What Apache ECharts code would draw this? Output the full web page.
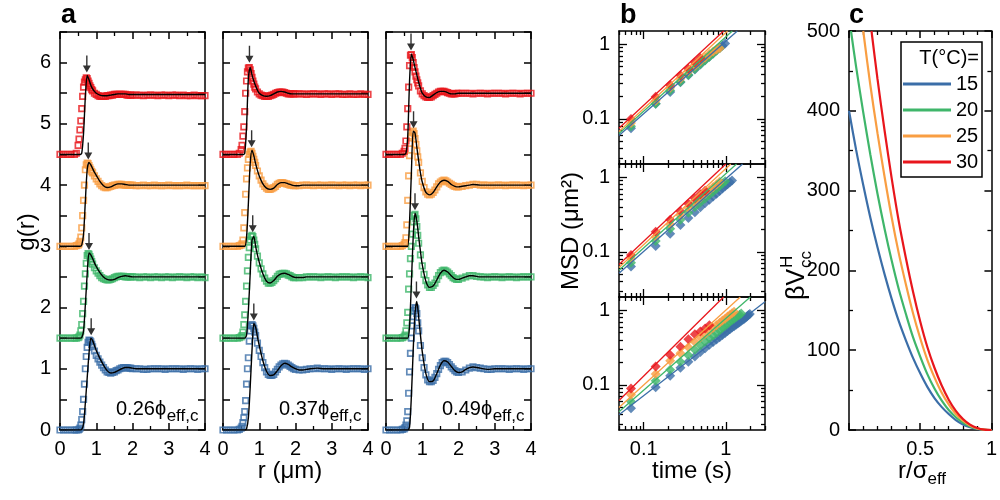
<!DOCTYPE html>
<html>
<head>
<meta charset="utf-8">
<script src="https://cdn.jsdelivr.net/npm/echarts@6.0.0/dist/echarts.min.js"></script>
<style>
html, body { margin: 0; padding: 0; background: #fff; }
#main { width: 1000px; height: 500px; }
</style>
</head>
<body>
<div id="main"></div>
<script>
// ---------- panel a : g(r) ----------
var rExp = [0, 0.1, 0.2, 0.3, 0.4, 0.45,
  0.5, 0.525, 0.55, 0.575, 0.6, 0.625, 0.65, 0.675, 0.7, 0.725, 0.75, 0.775, 0.8, 0.825, 0.85, 0.875, 0.9,
  0.95, 1.0, 1.05, 1.1, 1.15, 1.2, 1.25, 1.3, 1.35, 1.4, 1.45, 1.5, 1.55, 1.6, 1.65, 1.7, 1.75, 1.8, 1.85, 1.9, 1.95, 2.0,
  2.1, 2.2, 2.3, 2.4, 2.5, 2.6, 2.7, 2.8, 2.9, 3.0, 3.1, 3.2, 3.3, 3.4, 3.5, 3.6, 3.7, 3.8, 3.9, 4.0];
var rSim = [0, 0.5, 0.55, 0.6, 0.65, 0.7, 0.75, 0.8, 0.85, 0.9, 0.95, 1.0, 1.1, 1.2, 1.3, 1.4, 1.5, 1.6, 1.7, 1.8,
  1.9, 2.0, 2.1, 2.2, 2.3, 2.4, 2.6, 2.8, 3.0, 3.5, 4.0];

var temps = ['15', '20', '25', '30'];
var gOffset = [0, 1.5, 3, 4.5];
var phiLabels = ['0.26', '0.37', '0.49'];

// experiment (squares), one array per temperature
var gExp026_15 = [0, 0, 0, 0, 0, 0,
  0, 0.01, 0.03, 0.08, 0.17, 0.3, 0.5, 0.75, 1.0, 1.2, 1.35, 1.43, 1.47, 1.46, 1.44, 1.4, 1.36,
  1.29, 1.22, 1.16, 1.11, 1.06, 1.02, 0.98, 0.95, 0.94, 0.93, 0.94, 0.95, 0.97, 0.98, 1.0, 1.01, 1.02, 1.02, 1.02, 1.01, 1.01, 1.0,
  1.0, 1.0, 0.99, 0.99, 1.0, 1.0, 1.0, 1.0, 0.99, 1.0, 1.0, 1.0, 1.0, 0.99, 1.0, 1.0, 1.0, 0.99, 1.0, 1.0];
var gExp026_20 = [0, 0, 0, 0, 0, 0,
  0.01, 0.02, 0.05, 0.12, 0.22, 0.4, 0.6, 0.85, 1.05, 1.22, 1.35, 1.38, 1.37, 1.33, 1.29, 1.25, 1.21,
  1.15, 1.1, 1.06, 1.02, 0.99, 0.97, 0.96, 0.95, 0.95, 0.96, 0.97, 0.99, 1.0, 1.01, 1.01, 1.01, 1.01, 1.0, 1.0, 1.0, 1.0, 1.0,
  1.0, 0.99, 1.0, 1.0, 0.99, 1.0, 1.0, 0.99, 1.0, 1.0, 0.99, 1.0, 1.0, 1.0, 0.99, 1.0, 1.0, 0.99, 1.0, 0.99];
var gExp026_25 = [0, 0, 0, 0, 0, 0.01,
  0.02, 0.04, 0.08, 0.15, 0.3, 0.5, 0.75, 1.0, 1.25, 1.33, 1.36, 1.35, 1.32, 1.28, 1.25, 1.22, 1.2,
  1.15, 1.1, 1.06, 1.02, 0.99, 0.97, 0.96, 0.96, 0.97, 0.98, 0.99, 1.0, 1.0, 1.01, 1.01, 1.01, 1.0, 1.0, 1.0, 1.0, 1.0, 1.0,
  0.99, 0.99, 1.0, 0.99, 0.99, 1.0, 0.99, 0.99, 0.99, 1.0, 0.99, 0.99, 0.99, 0.99, 1.0, 0.99, 0.99, 0.99, 0.99, 0.99];
var gExp026_30 = [0, 0, 0, 0, 0, 0.02,
  0.15, 0.25, 0.4, 0.55, 0.75, 0.95, 1.1, 1.18, 1.22, 1.25, 1.24, 1.2, 1.16, 1.12, 1.09, 1.06, 1.04,
  1.0, 0.98, 0.96, 0.95, 0.95, 0.95, 0.95, 0.96, 0.96, 0.97, 0.97, 0.98, 0.98, 0.98, 0.98, 0.98, 0.98, 0.98, 0.97, 0.97, 0.97, 0.97,
  0.97, 0.97, 0.96, 0.97, 0.97, 0.97, 0.96, 0.97, 0.97, 0.96, 0.97, 0.97, 0.96, 0.97, 0.96, 0.96, 0.97, 0.96, 0.96, 0.96];

var gExp037_15 = [0, 0, 0, 0, 0, 0.01,
  0.03, 0.06, 0.12, 0.2, 0.3, 0.48, 0.75, 1.0, 1.18, 1.45, 1.62, 1.7, 1.72, 1.7, 1.66, 1.6, 1.54,
  1.42, 1.3, 1.2, 1.1, 1.02, 0.95, 0.91, 0.89, 0.89, 0.91, 0.95, 0.99, 1.03, 1.06, 1.08, 1.09, 1.08, 1.06, 1.04, 1.02, 1.0, 0.99,
  0.98, 0.98, 0.99, 1.0, 1.0, 1.01, 1.0, 1.0, 1.0, 0.99, 1.0, 1.0, 1.0, 0.99, 1.0, 1.0, 1.0, 1.0, 0.99, 1.0];
var gExp037_20 = [0, 0, 0, 0, 0, 0.01,
  0.02, 0.04, 0.1, 0.22, 0.38, 0.6, 0.85, 1.1, 1.32, 1.48, 1.6, 1.66, 1.68, 1.66, 1.6, 1.53, 1.46,
  1.34, 1.23, 1.13, 1.05, 0.98, 0.93, 0.9, 0.9, 0.91, 0.94, 0.97, 1.01, 1.04, 1.05, 1.06, 1.06, 1.05, 1.03, 1.02, 1.0, 0.99, 0.99,
  0.99, 0.99, 1.0, 1.0, 1.0, 1.0, 0.99, 1.0, 1.0, 1.0, 0.99, 1.0, 1.0, 1.0, 1.0, 0.99, 1.0, 1.0, 1.0, 0.99];
var gExp037_25 = [0, 0, 0, 0, 0, 0.01,
  0.02, 0.04, 0.1, 0.3, 0.55, 0.85, 1.1, 1.28, 1.42, 1.5, 1.54, 1.55, 1.52, 1.47, 1.42, 1.37, 1.32,
  1.23, 1.15, 1.08, 1.02, 0.98, 0.95, 0.93, 0.93, 0.94, 0.96, 0.98, 1.01, 1.03, 1.04, 1.04, 1.03, 1.02, 1.01, 1.0, 1.0, 0.99, 0.99,
  0.99, 1.0, 1.0, 1.0, 0.99, 1.0, 1.0, 0.99, 1.0, 1.0, 1.0, 0.99, 1.0, 1.0, 0.99, 1.0, 1.0, 0.99, 1.0, 1.0];
var gExp037_30 = [0, 0, 0, 0, 0, 0.02,
  0.08, 0.15, 0.3, 0.45, 0.7, 1.0, 1.2, 1.35, 1.41, 1.42, 1.38, 1.32, 1.26, 1.2, 1.15, 1.1, 1.07,
  1.02, 0.99, 0.97, 0.96, 0.95, 0.95, 0.95, 0.96, 0.97, 0.98, 1.0, 1.01, 1.02, 1.02, 1.02, 1.01, 1.0, 0.99, 0.99, 0.99, 0.99, 0.99,
  0.99, 0.99, 0.98, 0.99, 0.99, 0.99, 0.98, 0.99, 0.99, 0.98, 0.99, 0.99, 0.98, 0.98, 0.99, 0.98, 0.98, 0.99, 0.98, 0.98];

var gExp049_15 = [0, 0, 0, 0, 0, 0.01,
  0.02, 0.04, 0.08, 0.15, 0.3, 0.6, 0.95, 1.25, 1.5, 1.7, 1.85, 1.95, 2.0, 1.98, 1.9, 1.75, 1.62,
  1.38, 1.18, 1.02, 0.9, 0.82, 0.79, 0.79, 0.81, 0.86, 0.92, 0.99, 1.05, 1.1, 1.12, 1.12, 1.1, 1.07, 1.03, 1.0, 0.97, 0.95, 0.94,
  0.95, 0.98, 1.01, 1.03, 1.02, 1.01, 1.0, 0.99, 0.99, 1.0, 1.0, 1.0, 1.0, 0.99, 1.0, 1.0, 1.0, 0.99, 1.0, 1.0];
var gExp049_20 = [0, 0, 0, 0, 0, 0.01,
  0.02, 0.05, 0.12, 0.25, 0.42, 0.8, 1.05, 1.3, 1.5, 1.7, 1.9, 2.0, 2.02, 1.95, 1.82, 1.68, 1.55,
  1.36, 1.18, 1.04, 0.94, 0.87, 0.83, 0.83, 0.86, 0.9, 0.96, 1.02, 1.07, 1.1, 1.11, 1.1, 1.08, 1.05, 1.02, 0.99, 0.97, 0.96, 0.96,
  0.98, 1.0, 1.02, 1.02, 1.01, 1.0, 1.0, 0.99, 1.0, 1.0, 1.0, 0.99, 1.0, 1.0, 1.0, 0.99, 1.0, 1.0, 1.0, 1.0];
var gExp049_25 = [0, 0, 0, 0, 0, 0.01,
  0.03, 0.06, 0.14, 0.35, 0.75, 1.15, 1.48, 1.68, 1.8, 1.86, 1.88, 1.84, 1.76, 1.66, 1.56, 1.46, 1.37,
  1.2, 1.06, 0.96, 0.89, 0.85, 0.84, 0.85, 0.88, 0.92, 0.97, 1.02, 1.05, 1.07, 1.08, 1.07, 1.05, 1.03, 1.01, 0.99, 0.98, 0.97, 0.97,
  0.98, 0.99, 1.0, 1.01, 1.01, 1.0, 1.0, 1.0, 0.99, 1.0, 1.0, 1.0, 0.99, 1.0, 1.0, 1.0, 1.0, 0.99, 1.0, 1.0];
var gExp049_30 = [0, 0, 0, 0, 0, 0.02,
  0.05, 0.1, 0.22, 0.45, 0.75, 1.1, 1.45, 1.62, 1.63, 1.58, 1.5, 1.42, 1.35, 1.28, 1.22, 1.17, 1.12,
  1.04, 0.99, 0.96, 0.94, 0.93, 0.93, 0.94, 0.96, 0.98, 1.0, 1.02, 1.03, 1.03, 1.03, 1.02, 1.01, 1.0, 0.99, 0.99, 0.99, 1.0, 1.0,
  1.0, 1.0, 1.0, 0.99, 1.0, 1.0, 1.0, 0.99, 1.0, 1.0, 1.0, 1.0, 0.99, 1.0, 1.0, 1.0, 0.99, 1.0, 1.0, 1.0];

// simulation (black lines)
var gSim026_15 = [0, 0, 0, 0.01, 0.1, 0.45, 0.85, 1.25, 1.5, 1.46, 1.38, 1.3, 1.17, 1.06, 0.97, 0.93, 0.94, 0.97, 1.0, 1.02, 1.02, 1.01, 1.0, 1.0, 1.0, 1.0, 1.0, 1.0, 1.0, 1.0, 1.0];
var gSim026_20 = [0, 0, 0, 0.01, 0.12, 0.55, 1.05, 1.39, 1.36, 1.3, 1.23, 1.17, 1.07, 1.0, 0.96, 0.95, 0.96, 0.99, 1.01, 1.02, 1.01, 1.0, 1.0, 1.0, 1.0, 1.0, 1.0, 1.0, 1.0, 1.0, 1.0];
var gSim026_25 = [0, 0, 0, 0.02, 0.2, 0.75, 1.25, 1.37, 1.33, 1.27, 1.21, 1.16, 1.06, 0.99, 0.96, 0.97, 1.0, 1.02, 1.02, 1.01, 1.0, 1.0, 1.0, 1.0, 1.0, 1.0, 1.0, 1.0, 1.0, 1.0, 1.0];
var gSim026_30 = [0, 0, 0, 0.02, 0.35, 0.95, 1.29, 1.22, 1.13, 1.07, 1.03, 1.0, 0.97, 0.96, 0.96, 0.97, 0.98, 0.99, 0.99, 0.99, 0.98, 0.98, 0.98, 0.98, 0.98, 0.98, 0.98, 0.98, 0.98, 0.98, 0.98];

var gSim037_15 = [0, 0, 0, 0, 0.02, 0.2, 0.7, 1.3, 1.74, 1.68, 1.52, 1.38, 1.13, 0.96, 0.89, 0.9, 0.97, 1.05, 1.09, 1.07, 1.03, 1.0, 0.98, 0.98, 0.99, 1.0, 1.01, 1.0, 1.0, 1.0, 1.0];
var gSim037_20 = [0, 0, 0, 0, 0.05, 0.45, 1.05, 1.6, 1.66, 1.5, 1.36, 1.24, 1.05, 0.93, 0.9, 0.94, 1.01, 1.05, 1.06, 1.04, 1.01, 0.99, 0.99, 0.99, 1.0, 1.0, 1.0, 1.0, 1.0, 1.0, 1.0];
var gSim037_25 = [0, 0, 0, 0, 0.15, 0.7, 1.35, 1.57, 1.48, 1.35, 1.24, 1.15, 1.02, 0.95, 0.93, 0.95, 1.01, 1.04, 1.04, 1.02, 1.0, 0.99, 0.99, 1.0, 1.0, 1.0, 1.0, 1.0, 1.0, 1.0, 1.0];
var gSim037_30 = [0, 0, 0, 0.02, 0.45, 1.25, 1.42, 1.3, 1.2, 1.12, 1.05, 1.0, 0.96, 0.95, 0.96, 0.99, 1.02, 1.03, 1.02, 1.0, 0.99, 0.99, 0.99, 0.99, 0.99, 0.99, 0.99, 0.99, 0.99, 0.99, 0.99];

var gSim049_15 = [0, 0, 0, 0, 0.05, 0.55, 1.3, 1.9, 2.1, 1.85, 1.55, 1.28, 0.92, 0.79, 0.8, 0.92, 1.06, 1.13, 1.11, 1.04, 0.97, 0.94, 0.95, 0.99, 1.02, 1.03, 1.01, 0.99, 1.0, 1.0, 1.0];
var gSim049_20 = [0, 0, 0, 0, 0.2, 0.9, 1.65, 2.04, 1.92, 1.66, 1.42, 1.2, 0.93, 0.83, 0.85, 0.95, 1.06, 1.11, 1.08, 1.02, 0.97, 0.96, 0.98, 1.0, 1.02, 1.02, 1.0, 1.0, 1.0, 1.0, 1.0];
var gSim049_25 = [0, 0, 0, 0, 0.4, 1.2, 1.88, 1.85, 1.62, 1.4, 1.2, 1.05, 0.88, 0.84, 0.88, 0.97, 1.05, 1.08, 1.06, 1.01, 0.98, 0.97, 0.98, 0.99, 1.0, 1.01, 1.0, 1.0, 1.0, 1.0, 1.0];
var gSim049_30 = [0, 0, 0.02, 0.3, 1.2, 1.64, 1.55, 1.42, 1.3, 1.18, 1.08, 1.0, 0.94, 0.93, 0.97, 1.01, 1.03, 1.03, 1.01, 0.99, 0.99, 1.0, 1.0, 1.0, 1.0, 1.0, 1.0, 1.0, 1.0, 1.0, 1.0];

// first-peak arrows (r, g of the simulated peak)
var peakR026 = [0.86, 0.80, 0.78, 0.74];
var peakG026 = [1.5, 1.39, 1.37, 1.29];
var peakR037 = [0.85, 0.82, 0.79, 0.73];
var peakG037 = [1.74, 1.68, 1.57, 1.45];
var peakR049 = [0.84, 0.80, 0.76, 0.69];
var peakG049 = [2.1, 2.04, 1.88, 1.65];

// ---------- panel b : MSD ----------
var tFrames = [0.07, 0.14, 0.21, 0.28, 0.35, 0.42, 0.49, 0.56, 0.63, 0.70, 0.77, 0.84, 0.91, 0.98,
  1.05, 1.12, 1.19, 1.26, 1.33, 1.40, 1.47, 1.54, 1.61, 1.68, 1.75, 1.82, 1.89, 1.96];

var msd026_15 = [0.075, 0.16, 0.23, 0.31, 0.385, 0.46, 0.535, 0.61, 0.68, 0.75, 0.82, 0.89, 0.95, 1.02];
var msd026_20 = [0.080, 0.16, 0.24, 0.315, 0.39, 0.465, 0.54, 0.61, 0.68, 0.75, 0.82, 0.88];
var msd026_25 = [0.088, 0.175, 0.262, 0.345, 0.43, 0.51, 0.59, 0.665, 0.74, 0.80, 0.85, 0.88];
var msd026_30 = [0.10, 0.198, 0.285, 0.385, 0.47, 0.57, 0.655];

var msd037_15 = [0.064, 0.12, 0.175, 0.23, 0.285, 0.34, 0.395, 0.45, 0.50, 0.55, 0.60, 0.655, 0.705, 0.755, 0.805, 0.855, 0.905];
var msd037_20 = [0.072, 0.14, 0.205, 0.27, 0.335, 0.40, 0.46, 0.52, 0.58, 0.64, 0.70, 0.76, 0.82, 0.88];
var msd037_25 = [0.082, 0.16, 0.235, 0.31, 0.385, 0.46, 0.53, 0.60, 0.67, 0.74, 0.80, 0.87];
var msd037_30 = [0.091, 0.187, 0.27, 0.35, 0.44, 0.52, 0.59, 0.66];

var msd049_15 = [0.049, 0.093, 0.133, 0.17, 0.205, 0.24, 0.275, 0.31, 0.345, 0.375, 0.405, 0.435, 0.465, 0.495,
  0.525, 0.555, 0.585, 0.61, 0.64, 0.665, 0.69, 0.72, 0.745, 0.77, 0.80, 0.83, 0.86, 0.89];
var msd049_20 = [0.06, 0.114, 0.16, 0.205, 0.25, 0.295, 0.34, 0.38, 0.42, 0.46, 0.50, 0.54, 0.58, 0.62, 0.66,
  0.70, 0.74, 0.77, 0.81, 0.84, 0.87, 0.90];
var msd049_25 = [0.074, 0.14, 0.21, 0.265, 0.32, 0.375, 0.43, 0.48, 0.53, 0.58, 0.63, 0.68, 0.73, 0.77, 0.82, 0.86, 0.91, 0.95];
var msd049_30 = [0.090, 0.176, 0.251, 0.325, 0.41, 0.475, 0.52, 0.57, 0.63];

// fitted lines: [time, msd] end points
var fit026_15 = [[0.05, 0.060], [1.38, 1.5]];
var fit026_20 = [[0.05, 0.064], [1.20, 1.5]];
var fit026_25 = [[0.05, 0.068], [1.05, 1.5]];
var fit026_30 = [[0.05, 0.075], [0.94, 1.5]];
var fit037_15 = [[0.05, 0.052], [1.60, 1.5]];
var fit037_20 = [[0.05, 0.057], [1.35, 1.5]];
var fit037_25 = [[0.05, 0.062], [1.15, 1.5]];
var fit037_30 = [[0.05, 0.068], [1.00, 1.5]];
var fit049_15 = [[0.05, 0.040], [3.0, 1.3]];
var fit049_20 = [[0.05, 0.044], [1.99, 1.5]];
var fit049_25 = [[0.05, 0.050], [1.50, 1.5]];
var fit049_30 = [[0.05, 0.062], [0.94, 1.5]];

var logMajor = [0.1, 1];
var xLogMinor = [0.05, 0.06, 0.07, 0.08, 0.09, 0.2, 0.3, 0.4, 0.5, 0.6, 0.7, 0.8, 0.9, 2, 3];
var yLogMinor = [0.03, 0.04, 0.05, 0.06, 0.07, 0.08, 0.09, 0.2, 0.3, 0.4, 0.5, 0.6, 0.7, 0.8, 0.9];

// ---------- panel c : potential ----------
var rPot15 = [0, 0.05, 0.1, 0.15, 0.2, 0.25, 0.3, 0.35, 0.4, 0.45, 0.5, 0.55, 0.6, 0.65, 0.7, 0.75, 0.8, 0.85, 0.9, 0.95, 1.0];
var pot15 = [400, 351, 307, 266, 229, 195, 164, 136, 112, 90, 71, 54, 40, 29, 20, 12.5, 7, 3.5, 1.3, 0.2, 0];
var rPot20 = [0.014, 0.05, 0.1, 0.15, 0.2, 0.25, 0.3, 0.35, 0.4, 0.45, 0.5, 0.55, 0.6, 0.65, 0.7, 0.75, 0.8, 0.85, 0.9, 0.95, 1.0];
var pot20 = [500, 455, 398, 345, 296, 252, 212, 176, 145, 116, 92, 70, 52, 37, 25, 16, 9.3, 4.5, 1.6, 0.3, 0];
var rPot25 = [0.1, 0.15, 0.2, 0.25, 0.3, 0.35, 0.4, 0.45, 0.5, 0.55, 0.6, 0.65, 0.7, 0.75, 0.8, 0.85, 0.9, 0.95, 1.0];
var pot25 = [500, 432, 372, 317, 266, 221, 182, 146, 115, 88, 66, 47, 32, 20, 11.6, 5.7, 2, 0.4, 0];
var rPot30 = [0.158, 0.2, 0.25, 0.3, 0.35, 0.4, 0.45, 0.5, 0.55, 0.6, 0.65, 0.7, 0.75, 0.8, 0.85, 0.9, 0.95, 1.0];
var pot30 = [500, 440, 375, 315, 261, 215, 173, 136, 104, 78, 56, 38, 24, 13.8, 6.7, 2.4, 0.4, 0];

// ---------- styling / layout ----------
var tempColors = ['#3b6ea8', '#3fb66a', '#f99e42', '#e8161c'];
var FONT = 'Liberation Sans, Arial, sans-serif';
var aLefts = [60, 223, 386];
var bTops = [31, 164, 297];

var gExp = [[gExp026_15, gExp026_20, gExp026_25, gExp026_30],
            [gExp037_15, gExp037_20, gExp037_25, gExp037_30],
            [gExp049_15, gExp049_20, gExp049_25, gExp049_30]];
var gSim = [[gSim026_15, gSim026_20, gSim026_25, gSim026_30],
            [gSim037_15, gSim037_20, gSim037_25, gSim037_30],
            [gSim049_15, gSim049_20, gSim049_25, gSim049_30]];
var peakR = [peakR026, peakR037, peakR049];
var peakG = [peakG026, peakG037, peakG049];
var msd = [[msd026_15, msd026_20, msd026_25, msd026_30],
           [msd037_15, msd037_20, msd037_25, msd037_30],
           [msd049_15, msd049_20, msd049_25, msd049_30]];
var fits = [[fit026_15, fit026_20, fit026_25, fit026_30],
            [fit037_15, fit037_20, fit037_25, fit037_30],
            [fit049_15, fit049_20, fit049_25, fit049_30]];
var rPot = [rPot15, rPot20, rPot25, rPot30];
var pot = [pot15, pot20, pot25, pot30];

var measure = document.createElement('canvas').getContext('2d');
function textWidth(t, size) {
    measure.font = size + 'px ' + FONT;
    return measure.measureText(t).width;
}

var grids = [];
var xAxes = [];
var yAxes = [];
var series = [];

var lineStyleAxis = { color: '#000', width: 1.5 };

function linAxis(grid, pos, min, max, interval, minorSplit, showLabel, extraLabel) {
    var label = { show: showLabel, color: '#000', fontSize: 20, fontFamily: FONT, margin: 9 };
    if (extraLabel) Object.assign(label, extraLabel);
    return {
        type: 'value', gridIndex: grid, position: pos, min: min, max: max, interval: interval,
        splitLine: { show: false },
        axisLine: { show: true, onZero: false, lineStyle: lineStyleAxis },
        axisTick: { show: true, inside: true, length: 7, lineStyle: lineStyleAxis },
        minorTick: { show: minorSplit > 0, splitNumber: minorSplit || 2, length: 4, lineStyle: { color: '#000', width: 1.3 } },
        axisLabel: label
    };
}

function logAxis(grid, pos, min, max, ticks, len, showLine, showLabel) {
    return {
        type: 'log', logBase: 10, gridIndex: grid, position: pos, min: min, max: max,
        splitLine: { show: false },
        axisLine: { show: showLine, onZero: false, lineStyle: lineStyleAxis },
        axisTick: { show: true, inside: true, length: len, customValues: ticks, lineStyle: { color: '#000', width: 1.3 } },
        minorTick: { show: false },
        axisLabel: {
            show: showLabel, customValues: logMajor, color: '#000', fontSize: 20, fontFamily: FONT, margin: 9,
            formatter: function (v) { return v >= 1 ? '1' : '0.1'; }
        }
    };
}

// ---- panel a
for (var p = 0; p < 3; p++) {
    var gi = grids.length;
    grids.push({ left: aLefts[p], top: 32, width: 145, height: 398 });
    var xi = xAxes.length;
    xAxes.push(linAxis(gi, 'bottom', 0, 4, 1, 2, true));
    xAxes.push(linAxis(gi, 'top', 0, 4, 1, 2, false));
    var yi = yAxes.length;
    var yFmt = { formatter: function (v) { return Math.abs(v - Math.round(v)) < 1e-6 ? String(Math.round(v)) : ''; } };
    yAxes.push(linAxis(gi, 'left', 0, 6.5, 0.5, 0, p === 0, yFmt));
    yAxes.push(linAxis(gi, 'right', 0, 6.5, 0.5, 0, false));

    for (var k = 0; k < 4; k++) {
        var ge = gExp[p][k];
        series.push({
            name: 'exp' + p + k, type: 'scatter', xAxisIndex: xi, yAxisIndex: yi,
            symbol: 'rect', symbolSize: 5.5, silent: true,
            itemStyle: { color: 'rgba(255,255,255,0)', borderColor: tempColors[k], borderWidth: 1.7 },
            data: rExp.map(function (r, i) { return [r, ge[i] + gOffset[k]]; })
        });
    }
    for (var k = 0; k < 4; k++) {
        var gs = gSim[p][k];
        series.push({
            name: 'sim' + p + k, type: 'line', xAxisIndex: xi, yAxisIndex: yi,
            showSymbol: false, smooth: 0.25, silent: true,
            lineStyle: { color: '#000', width: 1.4 },
            data: rSim.map(function (r, i) { return [r, gs[i] + gOffset[k]]; })
        });
    }
    series.push({
        name: 'peaks' + p, type: 'scatter', xAxisIndex: xi, yAxisIndex: yi, silent: true,
        symbol: 'path://M3.3,0 L4.7,0 L4.7,10 L8,10 L4,17 L0,10 L3.3,10 Z',
        symbolSize: [8, 17], symbolOffset: [0, -11.5],
        itemStyle: { color: '#000' },
        data: peakR[p].map(function (r, i) { return [r, peakG[p][i] + gOffset[i]]; })
    });
}

// ---- panel b
for (var p = 0; p < 3; p++) {
    var gi = grids.length;
    grids.push({ left: 619, top: bTops[p], width: 146, height: 133 });
    var xi = xAxes.length;
    xAxes.push(logAxis(gi, 'bottom', 0.05, 3, logMajor, 8, true, p === 2));
    xAxes.push(logAxis(gi, 'bottom', 0.05, 3, xLogMinor, 4, false, false));
    xAxes.push(logAxis(gi, 'top', 0.05, 3, logMajor, 8, true, false));
    xAxes.push(logAxis(gi, 'top', 0.05, 3, xLogMinor, 4, false, false));
    var yi = yAxes.length;
    yAxes.push(logAxis(gi, 'left', 0.025, 1.5, logMajor, 8, true, true));
    yAxes.push(logAxis(gi, 'left', 0.025, 1.5, yLogMinor, 4, false, false));
    yAxes.push(logAxis(gi, 'right', 0.025, 1.5, logMajor, 8, true, false));
    yAxes.push(logAxis(gi, 'right', 0.025, 1.5, yLogMinor, 4, false, false));

    for (var k = 0; k < 4; k++) {
        var m = msd[p][k];
        series.push({
            name: 'msd' + p + k, type: 'scatter', xAxisIndex: xi, yAxisIndex: yi, silent: true,
            symbol: 'diamond', symbolSize: 10,
            itemStyle: { color: tempColors[k] },
            data: m.map(function (v, i) { return [tFrames[i], v]; })
        });
    }
    for (var k = 0; k < 4; k++) {
        series.push({
            name: 'fit' + p + k, type: 'line', xAxisIndex: xi, yAxisIndex: yi, silent: true,
            showSymbol: false, clip: true,
            lineStyle: { color: tempColors[k], width: 1.3 },
            data: fits[p][k]
        });
    }
}

// ---- panel c
(function () {
    var gi = grids.length;
    grids.push({ left: 849, top: 31, width: 144, height: 399 });
    var xi = xAxes.length;
    xAxes.push(linAxis(gi, 'bottom', 0, 1, 0.5, 5, true, { showMinLabel: false }));
    xAxes.push(linAxis(gi, 'top', 0, 1, 0.5, 5, false));
    var yi = yAxes.length;
    yAxes.push(linAxis(gi, 'left', 0, 500, 100, 2, true));
    yAxes.push(linAxis(gi, 'right', 0, 500, 100, 2, false));
    for (var k = 0; k < 4; k++) {
        var rr = rPot[k], vv = pot[k];
        series.push({
            name: temps[k], type: 'line', xAxisIndex: xi, yAxisIndex: yi, silent: true,
            showSymbol: false, smooth: 0.3, color: tempColors[k],
            lineStyle: { color: tempColors[k], width: 2.2 },
            data: rr.map(function (r, i) { return [r, vv[i]]; })
        });
    }
})();

// ---- text
var graphics = [];
function addText(x, baseline, text, size, opts) {
    opts = opts || {};
    graphics.push({
        type: 'text', x: x, y: baseline - 0.33 * size, rotation: opts.rotation || 0, silent: true,
        style: {
            text: text, fill: '#000',
            font: (opts.bold ? 'bold ' : '') + size + 'px ' + FONT,
            textAlign: opts.align || 'left', textVerticalAlign: 'middle',
            align: opts.align || 'left', verticalAlign: 'middle'
        }
    });
}

addText(61, 24, 'a', 27, { bold: true });
addText(620, 24, 'b', 27, { bold: true });
addText(849, 24, 'c', 27, { bold: true });

for (var p = 0; p < 3; p++) {
    var main = phiLabels[p] + 'ϕ';
    var x0 = aLefts[p] + 56;
    addText(x0, 416, main, 20);
    addText(x0 + textWidth(main, 20) + 0.5, 422, 'eff,c', 17);
}

addText(290, 479, 'r (μm)', 24, { align: 'center' });
addText(692, 479, 'time (s)', 24, { align: 'center' });
var rsW = textWidth('r/σ', 24);
addText(898, 479, 'r/σ', 24);
addText(898 + rsW, 485, 'eff', 17);

// rotated axis titles
graphics.push({
    type: 'text', x: 27, y: 232, rotation: Math.PI / 2, silent: true,
    style: { text: 'g(r)', fill: '#000', font: '24px ' + FONT, textAlign: 'center', textVerticalAlign: 'middle', align: 'center', verticalAlign: 'middle' }
});
graphics.push({
    type: 'text', x: 571, y: 231, rotation: Math.PI / 2, silent: true,
    style: { text: 'MSD (μm²)', fill: '#000', font: '24px ' + FONT, textAlign: 'center', textVerticalAlign: 'middle', align: 'center', verticalAlign: 'middle' }
});
var bvW = textWidth('βV', 25);
graphics.push({
    type: 'group', x: 797, y: 300, rotation: Math.PI / 2, silent: true,
    children: [
        { type: 'text', x: 0, y: 0, style: { text: 'βV', fill: '#000', font: '25px ' + FONT, textAlign: 'left', textVerticalAlign: 'middle', align: 'left', verticalAlign: 'middle' } },
        { type: 'text', x: bvW + 1, y: -10, style: { text: 'H', fill: '#000', font: '17px ' + FONT, textAlign: 'left', textVerticalAlign: 'middle', align: 'left', verticalAlign: 'middle' } },
        { type: 'text', x: bvW + 1, y: 9, style: { text: 'cc', fill: '#000', font: '17px ' + FONT, textAlign: 'left', textVerticalAlign: 'middle', align: 'left', verticalAlign: 'middle' } }
    ]
});

// legend box + title
graphics.push({
    type: 'rect', silent: true, z: 0,
    shape: { x: 901, y: 42, width: 81, height: 135 },
    style: { fill: 'none', stroke: '#000', lineWidth: 1.5 }
});
addText(979, 65, 'T(°C)=', 20, { align: 'right' });

var dom = document.getElementById('main');
var myChart = echarts.init(dom, null, { renderer: 'canvas' });

var option = {
    backgroundColor: '#ffffff',
    animation: false,
    textStyle: { fontFamily: FONT },
    grid: grids,
    xAxis: xAxes,
    yAxis: yAxes,
    legend: {
        data: temps, orient: 'vertical', left: 903, top: 73,
        itemWidth: 48, itemHeight: 3, itemGap: 4, icon: 'rect', selectedMode: false,
        padding: 0,
        textStyle: { fontSize: 20, fontFamily: FONT, color: '#000', lineHeight: 22 }
    },
    graphic: graphics,
    series: series
};

myChart.setOption(option);
window.addEventListener('resize', myChart.resize);
</script>
</body>
</html>
